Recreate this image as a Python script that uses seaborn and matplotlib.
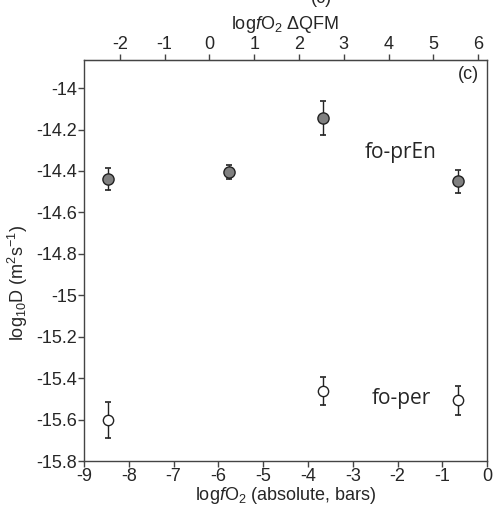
import matplotlib
matplotlib.use("Agg")
import matplotlib.pyplot as plt
import seaborn as sns
import numpy as np
import pandas as pd

# Data
prEn_x = [-8.47, -5.76, -3.66, -0.655]
prEn_y = [-14.44, -14.405, -14.145, -14.45]
prEn_err = [0.052, 0.036, 0.082, 0.056]

per_x = [-8.47, -3.66, -0.655]
per_y = [-15.60, -15.46, -15.507]
per_err = [0.087, 0.068, 0.071]

qfm_offset = 6.2
bottom_ticks = list(range(-9, 1))
top_ticks = list(range(-2, 7))
y_ticks = [-14, -14.2, -14.4, -14.6, -14.8, -15, -15.2, -15.4, -15.6, -15.8]
y_ticklabels = ["-14", "-14.2", "-14.4", "-14.6", "-14.8", "-15", "-15.2", "-15.4", "-15.6", "-15.8"]

sns.set_style("ticks")
plt.rcParams['font.family'] = ['Liberation Sans', 'DejaVu Sans']
plt.rcParams['mathtext.fontset'] = 'custom'
plt.rcParams['mathtext.rm'] = 'Liberation Sans'
plt.rcParams['mathtext.it'] = 'Liberation Sans:italic'
plt.rcParams['mathtext.bf'] = 'Liberation Sans:bold'

FS = 13

fig = plt.figure(figsize=(4.94, 5.09), dpi=100)
ax = fig.add_axes([0.170, 0.094, 0.816, 0.788])

df1 = pd.DataFrame({"x": prEn_x, "y": prEn_y})
df2 = pd.DataFrame({"x": per_x, "y": per_y})

# error bars
eb1 = ax.errorbar(prEn_x, prEn_y, yerr=prEn_err, fmt='none', ecolor='#222222',
                  elinewidth=1.0, capsize=2.3, capthick=1.2, zorder=2)
for c in eb1[1]:
    c.set_color('#7a4636')
eb2 = ax.errorbar(per_x, per_y, yerr=per_err, fmt='none', ecolor='#222222',
                  elinewidth=1.0, capsize=2.3, capthick=1.2, zorder=2)
for c in eb2[1]:
    c.set_color('#2f4c60')

sns.scatterplot(data=df1, x="x", y="y", ax=ax, s=65, color='#808080',
                edgecolor='#222222', linewidth=1.0, zorder=3, legend=False)
sns.scatterplot(data=df2, x="x", y="y", ax=ax, s=55, color='white',
                edgecolor='#222222', linewidth=1.0, zorder=3, legend=False)

ax.set_xlim(-9, 0)
ax.set_ylim(-15.8, -13.865)
ax.set_xticks(bottom_ticks)
ax.set_xticklabels([str(t) for t in bottom_ticks])
ax.set_yticks(y_ticks)
ax.set_yticklabels(y_ticklabels)

for s in ax.spines.values():
    s.set_visible(True)
    s.set_color('#444444')
    s.set_linewidth(1.0)

ax.tick_params(axis='both', direction='out', length=4, width=1.0, color='#444444',
               labelsize=FS, pad=1)
ax.set_xlabel(r'log$\it{f}$O$_2$ (absolute, bars)', fontsize=FS, labelpad=0)
ax.set_ylabel(r'log$_{10}$D (m$^2$s$^{-1}$)', fontsize=FS)
ax.yaxis.set_label_coords(-0.135, 0.444)

top = ax.secondary_xaxis('top', functions=(lambda x: x + qfm_offset, lambda x: x - qfm_offset))
top.set_xticks(top_ticks)
top.set_xticklabels([str(t) for t in top_ticks])
top.tick_params(direction='out', length=4, width=1.0, color='#444444', labelsize=FS, pad=1)
top.spines['top'].set_color('#444444')
top.set_xlabel(r'log$\it{f}$O$_2$ ΔQFM', fontsize=FS, labelpad=5)

ax.text(-1.92, -14.31, 'fo-prEn', fontsize=15, ha='center', va='center',
        family=['Open Sans', 'DejaVu Sans'])
ax.text(-1.92, -15.50, 'fo-per', fontsize=15, ha='center', va='center',
        family=['Open Sans', 'DejaVu Sans'])
ax.text(0.98, 0.985, '(c)', transform=ax.transAxes, fontsize=FS, ha='right', va='top')
fig.text(0.65, 1.003, '(c)', fontsize=FS, ha='center', va='center')

fig.savefig('out.png', dpi=100)
